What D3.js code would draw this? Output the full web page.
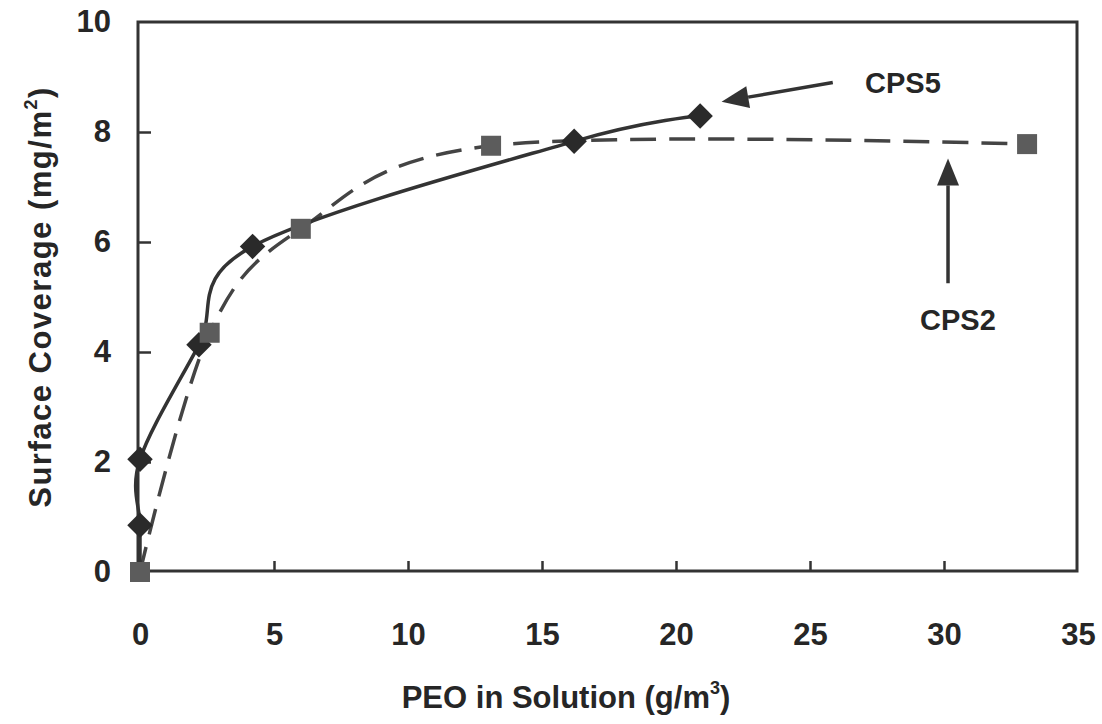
<!DOCTYPE html>
<html>
<head>
<meta charset="utf-8">
<script src="https://cdn.jsdelivr.net/npm/d3@7"></script>
<style>
  html, body { margin: 0; padding: 0; background: #fff; }
  svg { display: block; font-family: "Liberation Sans", Arial, sans-serif; }
</style>
</head>
<body>
<svg id="chart" width="1102" height="724"></svg>
<script>
// ---- data ----
const cps5X = [0, 0, 0, 2.2, 4.2, 16.2, 20.9];
const cps5Y = [0, 0.85, 2.05, 4.13, 5.92, 7.83, 8.29];
const cps5Marked = [false, true, true, true, true, true, true];
const cps2X = [0, 2.6, 6.0, 13.1, 33.1];
const cps2Y = [0, 4.35, 6.24, 7.75, 7.78];
const xTicks = [0, 5, 10, 15, 20, 25, 30, 35];
const yTicks = [0, 2, 4, 6, 8, 10];
const labelCPS5 = "CPS5";
const labelCPS2 = "CPS2";
// annotation anchor points in data units
const arrow5 = { from: [25.85, 8.9], to: [21.7, 8.55] };
const arrow2 = { from: [30.15, 5.25], to: [30.15, 7.52] };

const svg = d3.select("#chart");
const x = d3.scaleLinear().domain([0, 35]).range([140, 1078]);
const y = d3.scaleLinear().domain([0, 10]).range([572, 22]);
const ink = "#262626";
const FS = 31;

// frame
svg.append("rect")
  .attr("x", x(0) - 2).attr("y", y(10))
  .attr("width", x(35) - x(0) + 1).attr("height", y(0) - y(10) - 1)
  .attr("fill", "none").attr("stroke", "#333").attr("stroke-width", 3);

// axes
const xAxis = d3.axisBottom(x).tickValues(xTicks).tickSize(-10).tickPadding(52)
  .tickFormat(d3.format("d"));
const gx = svg.append("g").attr("transform", `translate(0,${y(0) - 1})`).call(xAxis);
gx.select(".domain").remove();
gx.selectAll(".tick line").attr("stroke", "#333").attr("stroke-width", 2.5)
  .filter(d => d === 0 || d === 35).remove();
gx.selectAll(".tick text").attr("fill", ink).attr("font-size", FS).attr("font-weight", "bold")
  .attr("font-family", "Liberation Sans, Arial, sans-serif");

const yAxis = d3.axisLeft(y).tickValues(yTicks).tickSize(-13).tickPadding(27)
  .tickFormat(d3.format("d"));
const gy = svg.append("g").attr("transform", `translate(${x(0) - 2},0)`).call(yAxis);
gy.select(".domain").remove();
gy.selectAll(".tick line").attr("stroke", "#333").attr("stroke-width", 2.5)
  .filter(d => d === 0 || d === 10).remove();
gy.selectAll(".tick text").attr("fill", ink).attr("font-size", FS).attr("font-weight", "bold")
  .attr("font-family", "Liberation Sans, Arial, sans-serif");

// axis titles
const xt = svg.append("text").attr("x", 566).attr("y", 708).attr("text-anchor", "middle")
  .attr("fill", ink).attr("font-size", FS).attr("font-weight", "bold");
xt.append("tspan").text("PEO in Solution (g/m");
xt.append("tspan").attr("font-size", 18).attr("dy", -14).text("3");
xt.append("tspan").attr("dy", 14).text(")");

const yt = svg.append("text").attr("transform", "translate(51,297) rotate(-90)")
  .attr("text-anchor", "middle").attr("fill", ink).attr("font-size", FS).attr("font-weight", "bold")
  .attr("letter-spacing", 1.5);
yt.append("tspan").text("Surface Coverage (mg/m");
yt.append("tspan").attr("font-size", 18).attr("dy", -14).text("2");
yt.append("tspan").attr("dy", 14).text(")");

// lines
const cps5 = cps5X.map((v, i) => ({ x: v, y: cps5Y[i], m: cps5Marked[i] }));
const cps2 = cps2X.map((v, i) => ({ x: v, y: cps2Y[i] }));
const line = d3.line().x(d => x(d.x)).y(d => y(d.y)).curve(d3.curveCardinal.tension(0));

svg.append("path").datum(cps2).attr("d", line).attr("fill", "none")
  .attr("stroke", "#444").attr("stroke-width", 3.5).attr("stroke-dasharray", "26,13");
svg.append("path").datum(cps5).attr("d", line).attr("fill", "none")
  .attr("stroke", "#333").attr("stroke-width", 3.5);

// markers
svg.selectAll(".dia").data(cps5.filter(d => d.m)).enter().append("path")
  .attr("transform", d => `translate(${x(d.x)},${y(d.y)}) rotate(45)`)
  .attr("d", "M-9,-9H9V9H-9Z").attr("fill", "#2a2a2a");
svg.selectAll(".sq").data(cps2).enter().append("rect")
  .attr("x", d => x(d.x) - 10).attr("y", d => y(d.y) - 10)
  .attr("width", 20).attr("height", 20).attr("fill", "#5c5c5c");

// arrows
function arrow(from, to) {
  const x1 = x(from[0]), y1 = y(from[1]), x2 = x(to[0]), y2 = y(to[1]);
  const a = Math.atan2(y2 - y1, x2 - x1);
  const L = 27, W = 11;
  const bx = x2 - L * Math.cos(a), by = y2 - L * Math.sin(a);
  svg.append("line").attr("x1", x1).attr("y1", y1).attr("x2", bx).attr("y2", by)
    .attr("stroke", "#333").attr("stroke-width", 3.5);
  const px = -Math.sin(a) * W, py = Math.cos(a) * W;
  svg.append("path")
    .attr("d", `M${x2},${y2}L${bx + px},${by + py}L${bx - px},${by - py}Z`)
    .attr("fill", "#333");
}
arrow(arrow5.from, arrow5.to);
arrow(arrow2.from, arrow2.to);

svg.append("text").attr("x", 865).attr("y", 93).attr("fill", ink)
  .attr("font-size", 29).attr("font-weight", "bold").text(labelCPS5);
svg.append("text").attr("x", 920).attr("y", 330).attr("fill", ink)
  .attr("font-size", 29).attr("font-weight", "bold").text(labelCPS2);
</script>
</body>
</html>
